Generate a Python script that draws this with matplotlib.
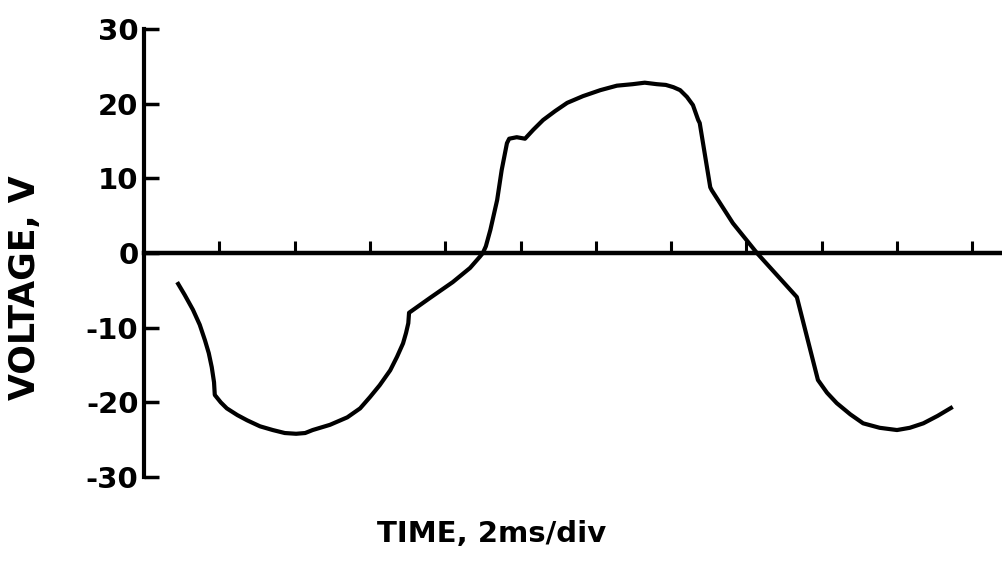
import matplotlib
matplotlib.use("Agg")
import matplotlib.pyplot as plt

# Time in divisions (2 ms/div), voltage in V
time_div = [0.44, 0.54, 0.65, 0.74, 0.81, 0.86, 0.90, 0.93, 0.94,
            1.02, 1.10, 1.24, 1.37, 1.54, 1.71, 1.87, 2.02, 2.14, 2.24, 2.47, 2.70,
            2.87, 3.00, 3.13, 3.27, 3.36, 3.44, 3.48, 3.51, 3.52,
            3.80, 4.10, 4.33, 4.46, 4.50, 4.54, 4.60, 4.69, 4.75, 4.82,
            4.85, 4.95, 5.06, 5.17, 5.30, 5.46, 5.62, 5.83, 6.06, 6.28, 6.49, 6.65,
            6.81, 6.93, 7.03, 7.12, 7.21, 7.29, 7.36, 7.38,
            7.52, 7.54, 7.82, 8.14, 8.67, 8.95, 9.07, 9.20, 9.38, 9.55, 9.77,
            10.00, 10.17, 10.35, 10.54, 10.74]
voltage = [-3.9, -5.6, -7.6, -9.6, -11.7, -13.4, -15.3, -17.3, -19.0,
           -20.0, -20.8, -21.7, -22.4, -23.2, -23.7, -24.1, -24.2, -24.1, -23.7, -23.0, -22.0,
           -20.8, -19.3, -17.7, -15.7, -13.9, -12.1, -10.7, -9.4, -8.0,
           -6.0, -3.9, -2.0, -0.5, 0.0, 0.9, 3.1, 7.1, 11.1, 14.7,
           15.3, 15.5, 15.3, 16.5, 17.8, 19.0, 20.1, 21.0, 21.8, 22.4, 22.6, 22.8,
           22.6, 22.5, 22.2, 21.8, 20.9, 19.8, 17.8, 17.4,
           8.8, 8.4, 4.0, 0.0, -5.9, -17.0, -18.7, -20.1, -21.6, -22.8, -23.4,
           -23.7, -23.4, -22.8, -21.8, -20.6]

y_ticks = [-30, -20, -10, 0, 10, 20, 30]
y_tick_labels = ["-30", "-20", "-10", "0", "10", "20", "30"]
x_ticks = list(range(1, 12))

fig = plt.figure(figsize=(10.03, 5.71), dpi=100)
ax = fig.add_axes([0, 0, 1, 1])
ax.set_xlim(-144 / 75.3, 859 / 75.3)
ax.set_ylim(-(571 - 253) / 7.47, 253 / 7.47)

ax.plot(time_div, voltage, color="black", lw=3.0, solid_capstyle="butt", solid_joinstyle="round")

for s in ["top", "right"]:
    ax.spines[s].set_visible(False)
ax.spines["left"].set_position(("data", 0))
ax.spines["bottom"].set_position(("data", 0))
ax.spines["left"].set_bounds(-30, 30)
ax.spines["bottom"].set_bounds(0, 859 / 75.3)
ax.spines["left"].set_linewidth(3.0)
ax.spines["bottom"].set_linewidth(3.2)

ax.set_yticks(y_ticks)
ax.set_yticklabels(y_tick_labels, fontsize=21, fontweight="bold")
ax.tick_params(axis="y", direction="in", length=11, width=2.5, pad=4)
ax.set_xticks(x_ticks)
ax.set_xticklabels([])
ax.tick_params(axis="x", direction="in", length=9, width=2.2)
for lbl in ax.get_yticklabels():
    lbl.set_horizontalalignment("right")

fig.text(25 / 1003, 1 - 288 / 571, "VOLTAGE, V", rotation=90, fontsize=25,
         fontweight="bold", ha="center", va="center")
fig.text(492 / 1003, 1 - 534 / 571, "TIME, 2ms/div", fontsize=21,
         fontweight="bold", ha="center", va="center")

fig.savefig("out.png", dpi=100)
